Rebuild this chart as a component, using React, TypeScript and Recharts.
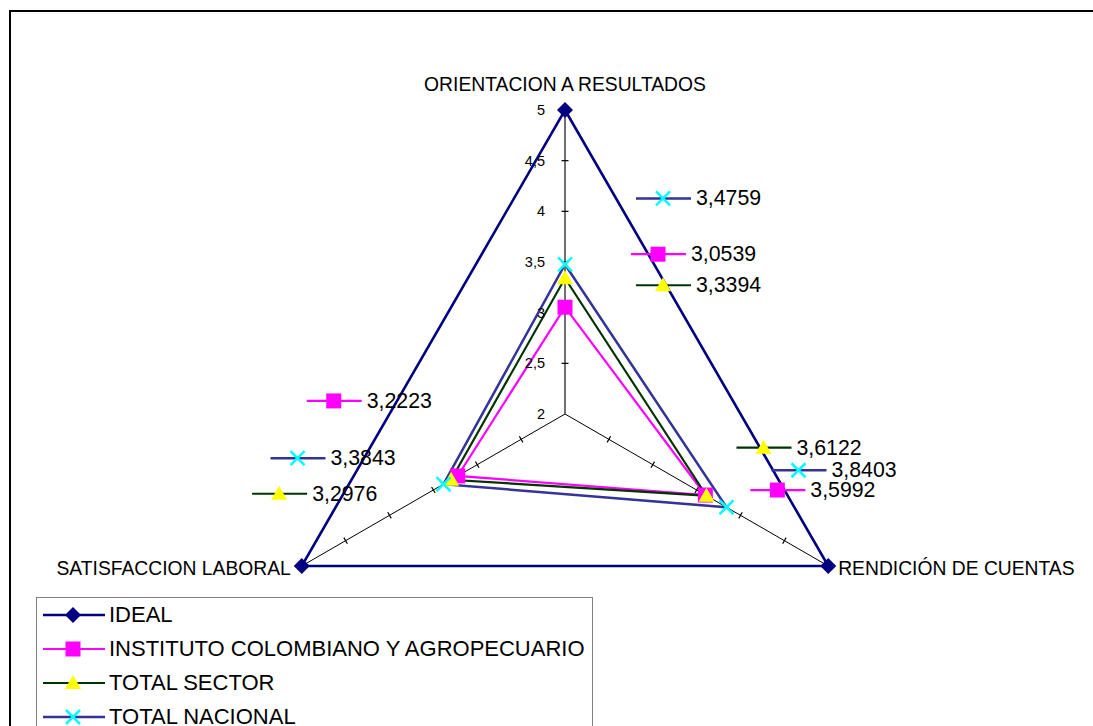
import React from 'react';
import { RadarChart, Radar, PolarAngleAxis, PolarRadiusAxis, LabelList, Legend } from 'recharts';

const categories = ['ORIENTACION A RESULTADOS', 'RENDICIÓN DE CUENTAS', 'SATISFACCION LABORAL'];
const ideal = [5, 5, 5];
const instituto = [3.0539, 3.5992, 3.2223];
const totalSector = [3.3394, 3.6122, 3.2976];
const totalNacional = [3.4759, 3.8403, 3.3843];
const radiusTicks = [2, 2.5, 3, 3.5, 4, 4.5, 5];

const data = categories.map((c, i) => ({
  category: c,
  ideal: ideal[i],
  instituto: instituto[i],
  sector: totalSector[i],
  nacional: totalNacional[i],
}));

const FONT = '"Liberation Sans", Arial, sans-serif';

type MarkerType = 'diamond' | 'square' | 'triangle' | 'x';

// label offsets (marker of the little key relative to the point), per category
const series = [
  { key: 'ideal', name: 'IDEAL', stroke: '#000080', width: 2.6, marker: 'diamond' as MarkerType, offsets: null },
  { key: 'instituto', name: 'INSTITUTO COLOMBIANO Y AGROPECUARIO', stroke: '#FF00FF', width: 2.2, marker: 'square' as MarkerType,
    offsets: [[93, -53], [72, -5], [-124, -75]] },
  { key: 'sector', name: 'TOTAL SECTOR', stroke: '#003300', width: 2.2, marker: 'triangle' as MarkerType,
    offsets: [[98, 7], [57, -48], [-172, 14]] },
  { key: 'nacional', name: 'TOTAL NACIONAL', stroke: '#333399', width: 2.5, marker: 'x' as MarkerType,
    offsets: [[98, -66], [72, -37], [-146, -26]] },
];

function Marker({ type, x, y }: { type: MarkerType; x: number; y: number }) {
  if (type === 'diamond') {
    return <polygon points={`${x},${y - 8} ${x + 8},${y} ${x},${y + 8} ${x - 8},${y}`} fill="#000080" />;
  }
  if (type === 'square') {
    return <rect x={x - 7.5} y={y - 7.5} width={15} height={15} fill="#FF00FF" />;
  }
  if (type === 'triangle') {
    return <polygon points={`${x},${y - 8} ${x + 8},${y + 6} ${x - 8},${y + 6}`} fill="#FFFF00" />;
  }
  return (
    <g stroke="#00FFFF" strokeWidth={2.5}>
      <line x1={x - 7} y1={y - 7} x2={x + 7} y2={y + 7} />
      <line x1={x - 7} y1={y + 7} x2={x + 7} y2={y - 7} />
    </g>
  );
}

const radiusTick = (angle: number, showLabel: boolean) => (p: any) => {
  const { x, y, payload, index } = p;
  const v = payload.value;
  const rad = (angle * Math.PI) / 180;
  const px = Math.sin(rad) * 3.5;
  const py = Math.cos(rad) * 3.5;
  return (
    <g key={`t-${angle}-${index}`}>
      {v > 2 && v < 5 && (
        <line x1={x - px} y1={y - py} x2={x + px} y2={y + py} stroke="#000" strokeWidth={1.2} />
      )}
      {showLabel && (
        <text x={x - 20} y={y} textAnchor="end" dominantBaseline="central" fontSize={14.5} fontFamily={FONT} fill="#000">
          {String(v).replace('.', ',')}
        </text>
      )}
    </g>
  );
};

const angleTick = (p: any) => {
  const { x, y, payload, textAnchor } = p;
  let tx = x;
  let ty = y;
  if (textAnchor === 'middle') ty = y - 11;
  else if (textAnchor === 'start') { tx = x + 3; ty = y + 5; }
  else { tx = x - 4; ty = y + 5; }
  return (
    <text x={tx} y={ty} textAnchor={textAnchor} fontSize={19.3} fontFamily={FONT} fill="#000">
      {payload.value}
    </text>
  );
};

const valueLabel = (s: any) => (p: any) => {
  const { x, y, value, index } = p;
  const off = s.offsets[index];
  const mx = x + off[0];
  const my = y + off[1];
  return (
    <g key={`l-${s.key}-${index}`}>
      <line x1={mx - 27} y1={my} x2={mx + 28} y2={my} stroke={s.stroke} strokeWidth={s.width} />
      <Marker type={s.marker} x={mx} y={my} />
      <text x={mx + 33} y={my} dominantBaseline="central" fontSize={21.3} fontFamily={FONT} fill="#000">
        {String(value).replace('.', ',')}
      </text>
    </g>
  );
};

const renderLegend = (props: any) => {
  const { payload } = props;
  const shown = series.filter((s) => payload.some((e: any) => e.dataKey === s.key));
  return (
    <div style={{ border: '1px solid #808080', width: 557, height: 140, background: '#fff', boxSizing: 'border-box' }}>
      {shown.map((s) => (
        <div key={s.key} style={{ height: 34, display: 'flex', alignItems: 'center' }}>
          <svg width={72} height={34} style={{ flex: 'none' }}>
            <line x1={6} y1={17} x2={68} y2={17} stroke={s.stroke} strokeWidth={s.width} />
            <Marker type={s.marker} x={36} y={17} />
          </svg>
          <span style={{ fontFamily: FONT, fontSize: 22, color: '#000', whiteSpace: 'nowrap' }}>{s.name}</span>
        </div>
      ))}
    </div>
  );
};

export default function App() {
  return (
    <div style={{ position: 'absolute', left: 0, top: 0, width: 1093, height: 726, overflow: 'hidden', background: '#fff' }}>
      <div style={{ position: 'absolute', left: 9, top: 10, width: 1200, height: 800, borderTop: '2px solid #000', borderLeft: '2px solid #000' }} />
      <RadarChart
        width={1093}
        height={726}
        data={data}
        cx={565}
        cy={414}
        outerRadius={304}
        innerRadius={0}
        startAngle={90}
        endAngle={-270}
        margin={{ top: 0, right: 0, bottom: 0, left: 0 }}
      >
        <PolarAngleAxis dataKey="category" tickLine={false} axisLine={false} tick={angleTick} />
        <PolarRadiusAxis radiusAxisId={1} angle={-30} type="number" domain={[2, 5]} ticks={radiusTicks as any} axisLine={{ stroke: '#000', strokeWidth: 1 }} tick={radiusTick(-30, false)} />
        <PolarRadiusAxis radiusAxisId={2} angle={210} type="number" domain={[2, 5]} ticks={radiusTicks as any} axisLine={{ stroke: '#000', strokeWidth: 1 }} tick={radiusTick(210, false)} />
        <PolarRadiusAxis radiusAxisId={0} angle={90} type="number" domain={[2, 5]} ticks={radiusTicks as any} axisLine={{ stroke: '#707070', strokeWidth: 2 }} tick={radiusTick(90, true)} />
        {/* carriers so the two slanted axes get a scale; drawn invisible */}
        <Radar radiusAxisId={1} dataKey="ideal" stroke="none" fill="none" dot={false} legendType="none" isAnimationActive={false} />
        <Radar radiusAxisId={2} dataKey="ideal" stroke="none" fill="none" dot={false} legendType="none" isAnimationActive={false} />
        {series.map((s) => (
          <Radar
            key={s.key}
            radiusAxisId={0}
            dataKey={s.key}
            name={s.name}
            stroke={s.stroke}
            strokeWidth={s.width}
            fill="none"
            fillOpacity={0}
            isAnimationActive={false}
            dot={(p: any) => <Marker key={`d-${s.key}-${p.index}`} type={s.marker} x={p.cx} y={p.cy} />}
          >
            {s.offsets && <LabelList dataKey={s.key} content={valueLabel(s)} />}
          </Radar>
        ))}
        <Legend content={renderLegend} wrapperStyle={{ position: 'absolute', left: 36, top: 597, width: 557, height: 140, bottom: 'auto', right: 'auto' }} />
      </RadarChart>
    </div>
  );
}
